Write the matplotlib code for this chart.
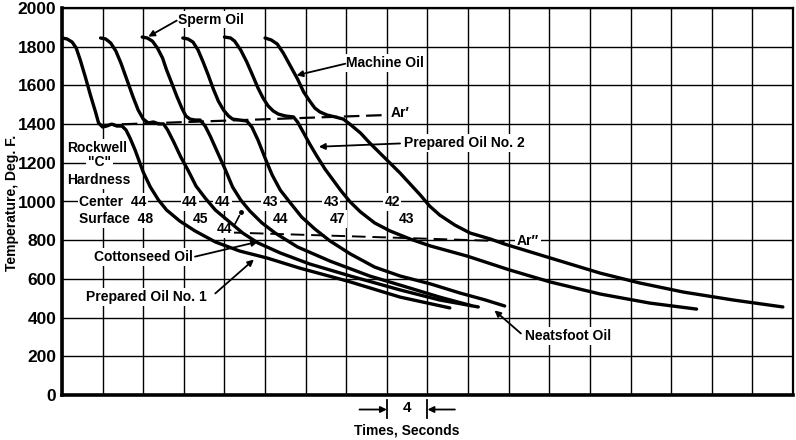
import numpy as np
import matplotlib
matplotlib.use('Agg')
import matplotlib.pyplot as plt

plt.rcParams['font.family'] = ['Liberation Sans', 'DejaVu Sans']
plt.rcParams['font.weight'] = 'bold'

# cooling curves: time (s), temperature (deg F)
prep1_t = [0, 0.5, 1.0, 1.4, 1.8, 2.3, 2.8, 3.3, 3.6, 4.0, 4.4, 4.9, 5.4, 5.9, 6.3, 6.7,
           7.2, 8.0, 8.7, 9.5, 10.3, 11.6, 13.1, 15.1, 17.5, 20.2, 23.4, 28.1, 33.3, 38.2]
prep1_T = [1845, 1840, 1824, 1793, 1731, 1643, 1550, 1463, 1406, 1385, 1390, 1400, 1390, 1390, 1370, 1328,
           1266, 1152, 1075, 1008, 956, 899, 848, 791, 744, 708, 656, 589, 506, 450]

cotton_t = [3.8, 4.3, 4.8, 5.3, 5.8, 6.4, 7.0, 7.5, 8.0, 8.5, 9.0, 9.5, 10.0, 10.4, 11.0, 11.7,
            12.4, 13.2, 14.1, 15.1, 16.4, 17.8, 19.3, 21.5, 24.4, 28.4, 33.3, 37.2, 41.0]
cotton_T = [1845, 1840, 1819, 1778, 1716, 1628, 1540, 1473, 1426, 1406, 1411, 1401, 1401, 1370, 1308, 1230,
            1163, 1080, 1018, 956, 899, 837, 786, 734, 677, 615, 543, 491, 455]

sperm_t = [7.9, 8.4, 8.9, 9.4, 9.9, 10.3, 10.8, 11.3, 11.8, 12.2, 12.6, 13.1, 13.6, 14.1, 14.6, 15.3,
           16.1, 16.8, 17.6, 18.5, 19.7, 21.0, 23.2, 26.4, 30.3, 33.3, 37.2, 40.3]
sperm_T = [1850, 1845, 1829, 1793, 1742, 1680, 1613, 1545, 1483, 1442, 1426, 1421, 1421, 1390, 1338, 1256,
           1163, 1075, 1008, 951, 889, 837, 765, 692, 615, 568, 506, 462]

neats_t = [11.9, 12.4, 12.9, 13.4, 13.9, 14.4, 14.9, 15.4, 15.9, 16.4, 16.8, 17.5, 18.2, 18.7, 19.3, 20.0,
           20.7, 21.5, 22.5, 23.6, 24.9, 26.4, 28.4, 30.8, 33.3, 36.3, 39.2, 41.7, 43.6]
neats_T = [1845, 1840, 1824, 1783, 1721, 1654, 1582, 1519, 1473, 1442, 1426, 1421, 1416, 1385, 1318, 1225,
           1137, 1059, 992, 920, 858, 796, 729, 661, 615, 574, 527, 491, 460]

prep2_t = [16.0, 16.6, 17.0, 17.6, 18.2, 18.8, 19.3, 19.8, 20.3, 20.8, 21.3, 22.0, 22.8, 23.2, 23.7, 24.4,
           25.1, 25.9, 26.7, 27.5, 28.4, 29.4, 30.8, 32.3, 34.3, 36.3, 39.9, 44.1, 48.1, 53.0, 57.9, 62.5]
prep2_T = [1850, 1845, 1829, 1783, 1721, 1649, 1587, 1535, 1494, 1468, 1452, 1442, 1437, 1411, 1364, 1297,
           1235, 1168, 1111, 1054, 997, 946, 889, 848, 806, 770, 718, 646, 584, 522, 475, 444]

machine_t = [20.0, 20.6, 21.2, 21.8, 22.5, 23.2, 23.8, 24.4, 24.9, 25.4, 26.1, 26.9, 27.7, 28.4, 29.4, 30.3,
             31.3, 32.3, 33.3, 34.3, 35.3, 36.2, 37.2, 38.7, 40.2, 42.2, 43.6, 48.1, 53.0, 56.9, 61.2, 66.1, 71.0]
machine_T = [1845, 1835, 1814, 1767, 1700, 1633, 1566, 1519, 1483, 1463, 1447, 1437, 1426, 1398, 1354, 1303,
             1251, 1199, 1147, 1090, 1033, 977, 930, 878, 837, 806, 780, 708, 630, 579, 532, 491, 455]

# transformation lines
ar1_t = [3.7, 32.0]
ar1_T = [1395, 1447]
ar2_t = [16.5, 43.6]
ar2_T = [840, 795]

# Rockwell "C" hardness (center, surface) for each quench
hard_center = ['44', '44', '43', '43', '42']
hard_surface = ['45', '44', '44', '47', '43']
center_x = [12.6, 15.8, 20.5, 26.5, 32.5]
surface_x = [13.6, 16.0, 21.5, 27.1, 33.9]
surface_y = [910, 858, 910, 910, 910]

curves = [(prep1_t, prep1_T), (cotton_t, cotton_T), (sperm_t, sperm_T),
          (neats_t, neats_T), (prep2_t, prep2_T), (machine_t, machine_T)]

fig = plt.figure(figsize=(7.96, 4.40), dpi=100)
ax = fig.add_axes([62 / 796, 45 / 440, 731 / 796, 387 / 440])

for t, T in curves:
    ax.plot(t, T, color='black', lw=2.4, solid_capstyle='round', solid_joinstyle='round', zorder=4)

ax.plot(ar1_t, ar1_T, color='black', lw=1.6, dashes=(7, 3), zorder=3)
ax.plot(ar2_t, ar2_T, color='black', lw=1.4, dashes=(7, 3.5), zorder=3)

ax.set_xlim(0, 72)
ax.set_ylim(0, 2000)
ax.set_xticks(np.arange(0, 73, 4))
ax.set_xticklabels([])
ax.set_yticks(np.arange(0, 2001, 200))
ax.tick_params(axis='both', length=0, pad=4, labelsize=12.5)
for lab in ax.get_yticklabels():
    lab.set_fontweight('bold')
ax.grid(True, color='black', lw=1.0)
ax.set_axisbelow(True)
for side, w in [('left', 2.6), ('bottom', 2.6), ('top', 1.6), ('right', 1.6)]:
    ax.spines[side].set_linewidth(w)

box = dict(boxstyle='square,pad=0.12', fc='white', ec='none')
arrow = dict(arrowstyle='-|>', color='black', lw=1.3, mutation_scale=9, shrinkA=0, shrinkB=0)
fs = 10

def label(x, y, s, ha='left', **kw):
    ax.text(x, y, s, ha=ha, va='center', fontsize=fs, fontweight='bold', bbox=box, zorder=3.5, **kw)

def arrow_label(s, xy, xytext, tip):
    ax.annotate(s, xy=tip, xytext=xytext, fontsize=fs, fontweight='bold', va='center', ha='left',
                bbox=box, zorder=3.5)
    ax.annotate('', xy=tip, xytext=xy, arrowprops=arrow, zorder=5)

arrow_label('Sperm Oil', (11.3, 1935), (11.4, 1940), (8.5, 1852))
arrow_label('Machine Oil', (27.9, 1712), (28.0, 1716), (23.1, 1652))
arrow_label('Prepared Oil No. 2', (33.3, 1300), (33.7, 1302), (25.3, 1283))
arrow_label('Cottonseed Oil', (13.1, 715), (3.2, 713), (19.3, 792))
arrow_label('Prepared Oil No. 1', (15.1, 525), (2.4, 506), (18.9, 700))
arrow_label('Neatsfoot Oil', (45.2, 318), (45.6, 305), (42.6, 437))

label(32.4, 1457, "Ar\u2032")
label(44.8, 796, "Ar\u2033")

label(0.5, 1276, 'Rockwell')
label(3.7, 1204, '"C"', ha='center')
label(0.5, 1111, 'Hardness')
label(1.7, 997, 'Center  44')
label(1.7, 910, 'Surface  48')
for i in range(len(hard_center)):
    label(center_x[i], 997, hard_center[i], ha='center')
    label(surface_x[i], surface_y[i], hard_surface[i], ha='center')
ax.annotate('', xy=(17.6, 940), xytext=(16.9, 870),
            arrowprops=dict(arrowstyle='-', color='black', lw=1.2))
ax.plot([17.6], [945], 'o', color='black', ms=2.5, zorder=5)

# time scale bracket under the axis
ax.plot([32, 32], [-25, -120], color='black', lw=1.3, clip_on=False)
ax.plot([36, 36], [-25, -120], color='black', lw=1.3, clip_on=False)
ax.annotate('', xy=(32, -75), xytext=(29.3, -75), annotation_clip=False,
            arrowprops=dict(arrowstyle='-|>', color='black', lw=1.3, mutation_scale=9, shrinkA=0, shrinkB=0))
ax.annotate('', xy=(36, -75), xytext=(38.7, -75), annotation_clip=False,
            arrowprops=dict(arrowstyle='-|>', color='black', lw=1.3, mutation_scale=9, shrinkA=0, shrinkB=0))
ax.text(34, -68, '4', ha='center', va='center', fontsize=11, fontweight='bold', clip_on=False)
ax.text(34, -181, 'Times, Seconds', ha='center', va='center', fontsize=fs, fontweight='bold', clip_on=False)

fig.text(12 / 796, (440 - 203) / 440, 'Temperature, Deg. F.', rotation=90, ha='center', va='center',
         fontsize=fs, fontweight='bold')

fig.savefig('out.png', dpi=100, facecolor='white')
